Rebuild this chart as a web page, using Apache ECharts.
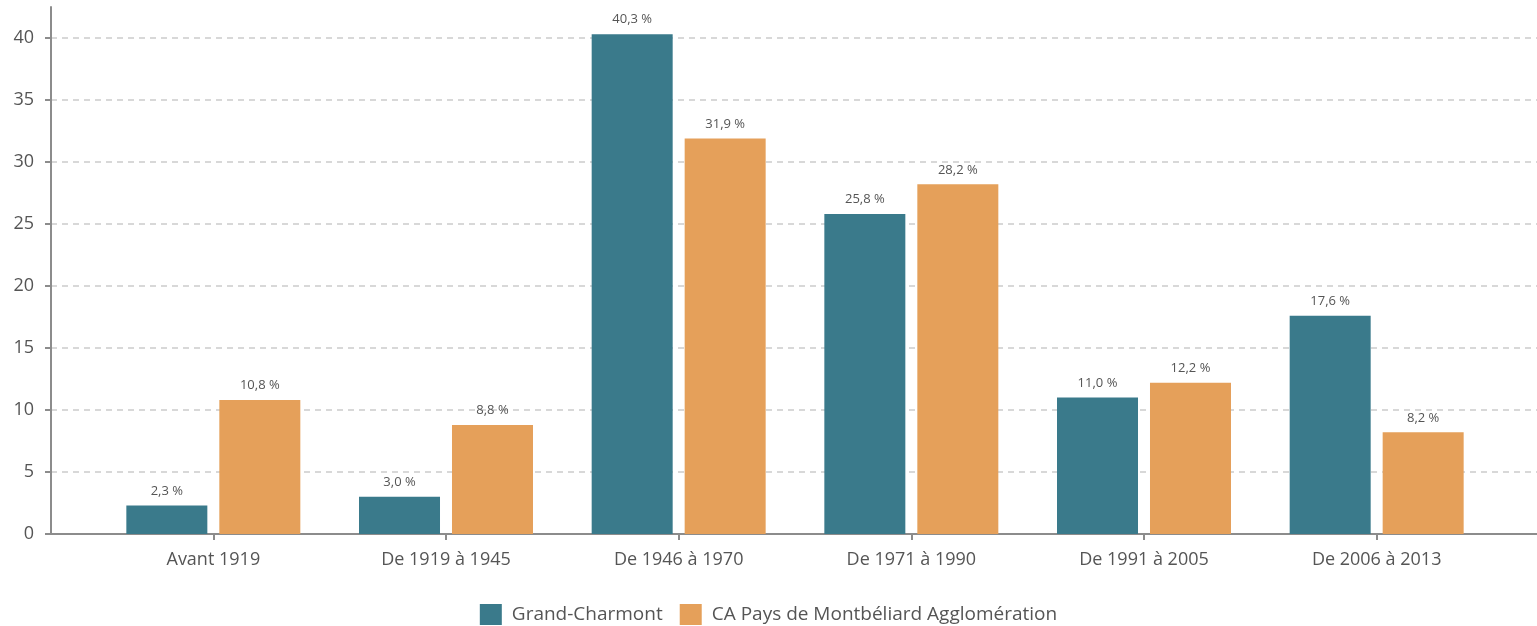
<!DOCTYPE html>
<html><head><meta charset="utf-8">
<script src="https://cdn.jsdelivr.net/npm/echarts@6/dist/echarts.min.js"></script>
<style>html,body{margin:0;padding:0;background:#fff}#c{width:1537px;height:626px}</style>
</head><body><div id="c"></div>
<script>
var categories = ['Avant 1919','De 1919 à 1945','De 1946 à 1970','De 1971 à 1990','De 1991 à 2005','De 2006 à 2013'];
var grandCharmont = [2.3, 3.0, 40.3, 25.8, 11.0, 17.6];
var caPays = [10.8, 8.8, 31.9, 28.2, 12.2, 8.2];
var seriesNames = ['Grand-Charmont', 'CA Pays de Montbéliard Agglomération'];
var yTicks = [0, 5, 10, 15, 20, 25, 30, 35, 40];

var FONT = '"Open Sans", sans-serif';
var chart = echarts.init(document.getElementById('c'));
function fmt(p){ return p.value.toFixed(1).replace('.', ',') + ' %'; }
chart.setOption({
  animation: false,
  textStyle: {fontFamily: FONT},
  legend: {
    bottom: 0, left: 'center', padding: [0, 5, 1, 5], itemWidth: 22, itemHeight: 21, itemGap: 17,
    icon: 'rect',
    textStyle: {fontSize: 19, color: '#555', fontFamily: FONT, padding: [0, 0, 0, 5]},
    data: seriesNames
  },
  grid: [
    {left: 51, right: 0, top: 7, bottom: 92},
    {left: 51, right: 0, top: 38, bottom: 92},
    {left: 97, right: 44, top: 7, bottom: 92}
  ],
  xAxis: [
    {gridIndex: 0, type: 'value', min: 0, max: 1, show: true,
     axisLine: {show: true, onZero: false, lineStyle: {color: '#8c8c8c', width: 2}},
     axisTick: {show: false}, axisLabel: {show: false}, splitLine: {show: false}},
    {gridIndex: 1, type: 'value', min: 0, max: 1, show: false},
    {gridIndex: 2, type: 'category', data: categories,
     axisLine: {show: false},
     axisTick: {show: true, alignWithLabel: true, length: 6, lineStyle: {color: '#8c8c8c', width: 2}},
     axisLabel: {fontSize: 18, color: '#555', margin: 17, fontFamily: FONT}}
  ],
  yAxis: [
    {gridIndex: 0, type: 'value', min: 0, max: 42.5,
     axisLine: {show: true, lineStyle: {color: '#8c8c8c', width: 2}},
     axisTick: {show: false}, axisLabel: {show: false}, splitLine: {show: false}},
    {gridIndex: 1, type: 'value', min: 0, max: 40, interval: 5,
     axisLine: {show: false},
     axisTick: {show: true, length: 6, lineStyle: {color: '#8c8c8c', width: 2}},
     axisLabel: {fontSize: 18, color: '#555', margin: 17, fontFamily: FONT,
       customValues: yTicks},
     splitLine: {show: true, lineStyle: {color: '#cccccc', type: [6, 5], width: 1.5}}},
    {gridIndex: 2, type: 'value', min: 0, max: 42.5, show: false}
  ],
  series: [
    {name: seriesNames[0], type: 'bar', xAxisIndex: 2, yAxisIndex: 2, data: grandCharmont,
     barWidth: 81, barGap: '14.8%', itemStyle: {color: '#3a7a8b'},
     label: {show: true, position: 'top', distance: 8, fontSize: 13, color: '#555', fontFamily: FONT, formatter: fmt}},
    {name: seriesNames[1], type: 'bar', xAxisIndex: 2, yAxisIndex: 2, data: caPays,
     barWidth: 81, barGap: '14.8%', itemStyle: {color: '#e5a05a'},
     label: {show: true, position: 'top', distance: 8, fontSize: 13, color: '#555', fontFamily: FONT, formatter: fmt}}
  ]
});
</script></body></html>
